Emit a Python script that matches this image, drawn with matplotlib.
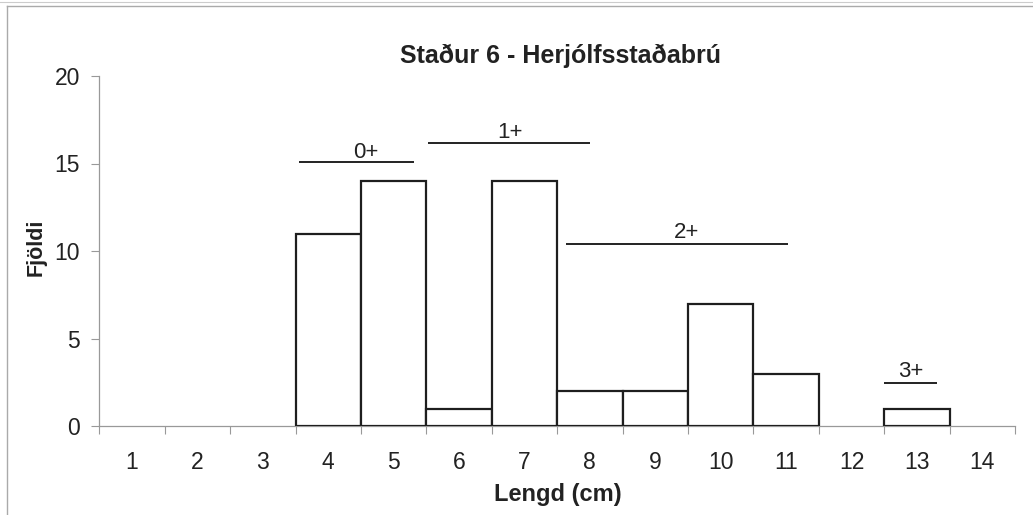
import matplotlib
matplotlib.use("Agg")
import matplotlib.pyplot as plt
import numpy as np
from matplotlib.lines import Line2D

# ---- data ----
lengths = [1, 2, 3, 4, 5, 6, 7, 8, 9, 10, 11, 12, 13, 14]
counts = [0, 0, 0, 11, 14, 1, 14, 2, 2, 7, 3, 0, 1, 0]
y_ticks = [0, 5, 10, 15, 20]

age_labels = ["0+", "1+", "2+", "3+"]
age_start = [3.55, 5.53, 7.63, 12.49]
age_end = [5.31, 8.00, 11.03, 13.30]
age_level = [15.07, 16.15, 10.38, 2.44]
age_text_x = [4.58, 6.78, 9.48, 12.90]
age_text_y = [15.65, 16.75, 11.06, 3.14]

title = "Staður 6 - Herjólfsstaðabrú"
xlabel = "Lengd (cm)"
ylabel = "Fjöldi"

plt.rcParams['font.family'] = ['Liberation Sans', 'DejaVu Sans']
W, H = 1033, 515
fig = plt.figure(figsize=(W / 100, H / 100), dpi=100)
fig.patch.set_facecolor("white")

ax = fig.add_axes([99.3 / W, 1 - 426 / H, (1015 - 99.3) / W, (426 - 76) / H])

x = np.array(lengths)
c = np.array(counts)
mask = c > 0
ax.bar(x[mask], c[mask], width=1.0, facecolor="white", edgecolor="#1e1e1e",
       linewidth=1.6, zorder=3)

ax.set_xlim(0.5, 14.5)
ax.set_ylim(0, 20)
ax.set_yticks(y_ticks)
ax.set_xticks(lengths)
ax.set_xticks(np.arange(0.5, 15.0, 1.0), minor=True)
ax.tick_params(axis="x", which="major", length=0, pad=18, labelsize=16.5, labelcolor="#222")
ax.tick_params(axis="x", which="minor", length=6, width=0.8, color="#999", direction="out")
ax.tick_params(axis="y", which="major", length=6, width=0.8, color="#999", pad=8,
               labelsize=16.5, labelcolor="#222")
for s in ["top", "right"]:
    ax.spines[s].set_visible(False)
for s in ["left", "bottom"]:
    ax.spines[s].set_color("#999")
    ax.spines[s].set_linewidth(0.9)

for lab, a, b, lv, tx, ty in zip(age_labels, age_start, age_end, age_level, age_text_x, age_text_y):
    ax.plot([a, b], [lv, lv], color="#222", linewidth=1.4, solid_capstyle="butt",
            clip_on=False, zorder=4)
    ax.text(tx, ty, lab, ha="center", va="center", fontsize=16, color="#222")

fig.text(560 / W, 1 - 63 / H, title, ha="center", va="baseline", fontsize=18,
         fontweight="bold", color="#222")
fig.text(558 / W, 1 - 501 / H, xlabel, ha="center", va="baseline", fontsize=17,
         fontweight="bold", color="#222")
fig.text(36 / W, 1 - 247 / H, ylabel, ha="center", va="center", rotation=90,
         fontsize=15.5, fontweight="bold", color="#222")

# outer frame (scanned page border)
fig.add_artist(Line2D([7 / W, 7 / W], [0, 1 - 6 / H], transform=fig.transFigure,
                      color="#aaa", linewidth=1.0))
fig.add_artist(Line2D([7 / W, 1], [1 - 6 / H, 1 - 6 / H], transform=fig.transFigure,
                      color="#aaa", linewidth=1.0))
fig.add_artist(Line2D([0, 1], [1 - 2 / H, 1 - 2 / H], transform=fig.transFigure,
                      color="#ccc", linewidth=0.8))

fig.savefig("out.png", dpi=100)
